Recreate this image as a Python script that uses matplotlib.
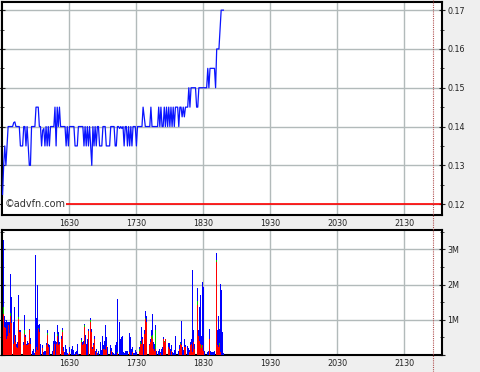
import numpy as np
import matplotlib
matplotlib.use('Agg')
import matplotlib.pyplot as plt
import matplotlib.transforms as mtrans
from matplotlib.lines import Line2D
from matplotlib.ticker import MultipleLocator, FuncFormatter

# intraday session, one value per minute from 15:30
START = '1530'
hour_labels = ['1630', '1730', '1830', '1930', '2030', '2130']
session_end = '2204'
close_mark = '2156'
ref_price = 0.12

price = [
    0.1225, 0.130, 0.135, 0.130, 0.135, 0.140, 0.140, 0.140, 0.140, 0.140,
    0.141, 0.1412, 0.140, 0.140, 0.140, 0.140, 0.135, 0.135, 0.135, 0.140,
    0.140, 0.135, 0.140, 0.135, 0.130, 0.130, 0.140, 0.140, 0.140, 0.140,
    0.145, 0.145, 0.145, 0.140, 0.140, 0.135, 0.139, 0.1395, 0.135, 0.140,
    0.135, 0.140, 0.135, 0.140, 0.140, 0.140, 0.140, 0.145, 0.135, 0.145,
    0.140, 0.145, 0.140, 0.140, 0.140, 0.140, 0.140, 0.135, 0.140, 0.135,
    0.140, 0.140, 0.140, 0.140, 0.140, 0.135, 0.135, 0.135, 0.140, 0.140,
    0.140, 0.140, 0.140, 0.135, 0.140, 0.135, 0.140, 0.135, 0.140, 0.135,
    0.130, 0.140, 0.135, 0.140, 0.135, 0.140, 0.140, 0.135, 0.135, 0.135,
    0.140, 0.140, 0.140, 0.135, 0.135, 0.135, 0.135, 0.140, 0.140, 0.140,
    0.140, 0.135, 0.135, 0.140, 0.140, 0.1395, 0.140, 0.1395, 0.140, 0.135,
    0.140, 0.140, 0.135, 0.140, 0.135, 0.140, 0.135, 0.140, 0.140, 0.140,
    0.135, 0.140, 0.140, 0.140, 0.140, 0.140, 0.145, 0.1425, 0.140, 0.140,
    0.140, 0.140, 0.140, 0.145, 0.140, 0.140, 0.140, 0.140, 0.140, 0.140,
    0.145, 0.140, 0.145, 0.140, 0.140, 0.145, 0.140, 0.145, 0.140, 0.145,
    0.140, 0.145, 0.140, 0.145, 0.140, 0.145, 0.145, 0.145, 0.140, 0.145,
    0.145, 0.1425, 0.145, 0.1425, 0.145, 0.145, 0.145, 0.150, 0.145, 0.150,
    0.150, 0.150, 0.150, 0.150, 0.145, 0.145, 0.150, 0.150, 0.150, 0.150,
    0.150, 0.150, 0.150, 0.150, 0.155, 0.150, 0.155, 0.155, 0.155, 0.155,
    0.155, 0.150, 0.160, 0.160, 0.160, 0.165, 0.170, 0.170, 0.170,
]

# volume per minute, millions of shares
vol_total = [
    3.27, 1.10, 0.95, 0.98, 0.95, 0.95, 0.95, 2.29, 1.65, 0.95,
    1.37, 0.57, 0.31, 0.38, 1.71, 0.70, 0.70, 1.27, 0.36, 1.14,
    0.58, 0.31, 0.41, 0.34, 0.74, 0.48, 0.12, 0.17, 0.07, 2.84,
    1.05, 1.98, 0.84, 0.89, 0.30, 0.27, 0.08, 0.10, 0.10, 0.33,
    0.70, 0.31, 0.28, 0.31, 0.10, 0.41, 0.65, 0.41, 0.38, 0.86,
    0.65, 0.38, 0.55, 0.76, 0.22, 0.08, 0.29, 0.17, 0.05, 0.03,
    0.22, 0.17, 0.25, 0.15, 0.02, 0.08, 0.12, 0.31, 0.02, 0.25,
    0.48, 0.36, 0.41, 0.89, 0.57, 0.31, 0.46, 0.74, 1.06, 0.74,
    0.22, 0.34, 0.53, 0.12, 0.17, 0.06, 0.10, 0.36, 0.15, 0.55,
    0.29, 0.41, 0.84, 0.50, 0.22, 0.10, 0.29, 0.19, 0.08, 0.06,
    0.03, 0.27, 0.36, 1.60, 0.95, 0.46, 0.50, 0.53, 0.08, 0.06,
    0.10, 0.10, 0.12, 0.63, 0.50, 0.17, 0.22, 0.06, 0.06, 0.15,
    0.08, 0.12, 0.22, 0.41, 0.79, 0.50, 0.31, 0.70, 1.24, 1.10,
    0.74, 0.31, 0.46, 0.70, 1.17, 0.36, 0.31, 0.86, 0.12, 0.10,
    0.17, 0.08, 0.17, 0.22, 0.50, 0.41, 0.46, 0.17, 0.34, 0.34,
    0.17, 0.27, 0.08, 0.06, 0.15, 0.53, 0.27, 0.12, 0.29, 0.38,
    0.96, 0.22, 0.15, 0.46, 0.29, 0.25, 0.19, 0.15, 0.38, 0.46,
    2.41, 0.70, 0.31, 0.95, 1.90, 0.70, 1.36, 1.71, 0.53, 2.06,
    1.93, 0.10, 0.10, 0.08, 0.12, 0.74, 0.12, 0.08, 0.08, 0.08,
    0.10, 2.89, 0.70, 1.10, 0.74, 2.03, 1.84, 0.65, 0.06,
]
vol_red = [
    1.17, 0.80, 0.77, 0.46, 0.55, 0.85, 0.63, 1.10, 0.90, 0.30,
    0.57, 0.36, 0.22, 0.20, 1.03, 0.66, 0.65, 0.27, 0.27, 0.60,
    0.50, 0.27, 0.27, 0.31, 0.70, 0.30, 0, 0, 0, 0.08,
    0.22, 0.15, 0.74, 0.65, 0, 0.20, 0, 0, 0, 0.27,
    0.57, 0.22, 0, 0, 0, 0.10, 0.30, 0, 0.31, 0.55,
    0.29, 0.31, 0.46, 0.64, 0.12, 0, 0, 0, 0, 0.03,
    0.08, 0, 0, 0, 0, 0, 0.03, 0, 0, 0.17,
    0.36, 0.27, 0.31, 0.79, 0.31, 0, 0, 0.67, 0.93, 0.65,
    0.17, 0.27, 0.46, 0, 0.08, 0, 0, 0, 0, 0,
    0.17, 0.17, 0.15, 0.25, 0, 0, 0, 0.12, 0, 0,
    0, 0, 0, 0.05, 0, 0, 0, 0, 0, 0,
    0, 0, 0, 0.08, 0, 0, 0.08, 0, 0, 0,
    0, 0, 0.12, 0.31, 0.31, 0.46, 0, 0.60, 1.01, 0.93,
    0.55, 0.27, 0.36, 0.50, 0.46, 0.17, 0.10, 0.17, 0, 0,
    0, 0.06, 0, 0, 0.46, 0.36, 0.45, 0, 0.22, 0.17,
    0, 0.12, 0, 0, 0, 0, 0.17, 0, 0.17, 0.31,
    0.27, 0, 0, 0.22, 0.22, 0, 0, 0.08, 0.27, 0.31,
    0.08, 0.36, 0.17, 0.55, 1.43, 0.55, 0.41, 0.31, 0.20, 0.27,
    0.12, 0, 0, 0, 0, 0.46, 0, 0, 0, 0,
    0, 2.65, 0.27, 0.22, 0.27, 0.08, 0, 0, 0,
]
vol_green = [
    0.19, 0, 0, 0, 0, 0, 0, 0.08, 0, 0,
    0, 0, 0, 0, 0.04, 0, 0, 0, 0, 0.12,
    0, 0, 0, 0, 0, 0, 0, 0, 0, 0,
    0, 0, 0.03, 0, 0, 0, 0, 0, 0, 0,
    0.05, 0, 0, 0, 0, 0, 0, 0, 0, 0.05,
    0, 0, 0, 0.06, 0, 0, 0, 0, 0, 0,
    0, 0, 0, 0, 0, 0, 0, 0, 0, 0,
    0.06, 0, 0, 0.05, 0, 0, 0, 0, 0.05, 0,
    0, 0, 0, 0, 0, 0, 0, 0, 0, 0,
    0, 0, 0, 0, 0, 0, 0, 0, 0, 0,
    0, 0, 0, 0.03, 0, 0, 0, 0, 0, 0,
    0, 0, 0, 0, 0, 0, 0, 0, 0, 0,
    0, 0, 0.05, 0.07, 0, 0, 0, 0, 0.05, 0,
    0, 0, 0, 0.05, 0.11, 0, 0, 0.55, 0, 0,
    0, 0, 0, 0, 0, 0.04, 0, 0, 0, 0,
    0, 0, 0, 0, 0, 0, 0, 0, 0, 0.04,
    0, 0, 0, 0, 0, 0, 0, 0, 0, 0,
    0, 0, 0, 0.04, 0.10, 0, 0, 0, 0.07, 0,
    0, 0, 0, 0, 0, 0, 0, 0, 0, 0,
    0, 0.05, 0, 0, 0.06, 0, 0, 0, 0,
]


def minutes(hhmm):
    return (int(hhmm[:2]) * 60 + int(hhmm[2:])) - (int(START[:2]) * 60 + int(START[2:]))


t_price = np.arange(len(price))
t_vol = np.arange(len(vol_total))
red = np.array(vol_red)
green = np.array(vol_green)
blue = np.maximum(np.array(vol_total) - red - green, 0)

hour_pos = [minutes(h) for h in hour_labels]
xlim = (-0.5, minutes(session_end))

plt.rcParams['font.family'] = 'DejaVu Sans'
fig = plt.figure(figsize=(4.8, 3.72), dpi=100, facecolor='#efefef')
W, H = 480.0, 372.0
ax1 = fig.add_axes([2 / W, 1 - 215 / H, 440 / W, 213 / H])
ax2 = fig.add_axes([2 / W, 1 - 355 / H, 440 / W, 125 / H])

gridc = '#b2baba'
for ax in (ax1, ax2):
    ax.set_facecolor('white')
    ax.set_xlim(*xlim)
    ax.set_xticks(hour_pos)
    ax.set_xticklabels(hour_labels)
    ax.yaxis.tick_right()
    ax.grid(True, which='major', color=gridc, lw=1.0)
    ax.set_axisbelow(True)
    for s in ax.spines.values():
        s.set_linewidth(1.5)
        s.set_color('black')
    ax.tick_params(axis='x', length=0, pad=3, labelsize=5.8, colors='#222222')
    ax.tick_params(axis='y', which='both', left=True, right=True,
                   direction='inout', labelsize=5.8, pad=2, colors='#222222')
    ax.tick_params(axis='y', which='major', length=4)
    ax.tick_params(axis='y', which='minor', length=3)

# price panel
ax1.axhline(ref_price, color='red', lw=1.2, zorder=2)
ax1.plot(t_price, price, color='#0a14ff', lw=0.9, zorder=3)
ax1.set_ylim(0.1172, 0.1721)
ax1.yaxis.set_major_locator(MultipleLocator(0.01))
ax1.yaxis.set_minor_locator(MultipleLocator(0.005))
ax1.yaxis.set_major_formatter(FuncFormatter(lambda v, p: f'{v:.2f}'))
ax1.text(0.005, 0.052, '\u00a9advfn.com', transform=ax1.transAxes, fontsize=7,
         color='#333333', ha='left', va='center', zorder=4,
         bbox=dict(facecolor='white', edgecolor='none', pad=0.6))

# volume panel
ax2.bar(t_vol, red, width=0.85, color='#ff0000', lw=0, align='edge', zorder=3)
ax2.bar(t_vol, green, width=0.85, bottom=red, color='#00cc00', lw=0,
        align='edge', zorder=3)
ax2.bar(t_vol, blue, width=0.85, bottom=red + green, color='#0000ff', lw=0,
        align='edge', zorder=3)
ax2.set_ylim(0, 3.55)
ax2.yaxis.set_major_locator(MultipleLocator(1))
ax2.yaxis.set_minor_locator(MultipleLocator(0.5))
ax2.yaxis.set_major_formatter(FuncFormatter(lambda v, p: f'{int(round(v))}M' if v > 0.5 else ''))

# dotted marker running through both panels
tr = mtrans.blended_transform_factory(ax1.transData, fig.transFigure)
fig.add_artist(Line2D([minutes(close_mark)] * 2, [0.0, 1.0], transform=tr,
                      color='#b05050', lw=0.8, ls=(0, (1, 1)), zorder=5))

fig.savefig('out.png', dpi=100, facecolor=fig.get_facecolor())
